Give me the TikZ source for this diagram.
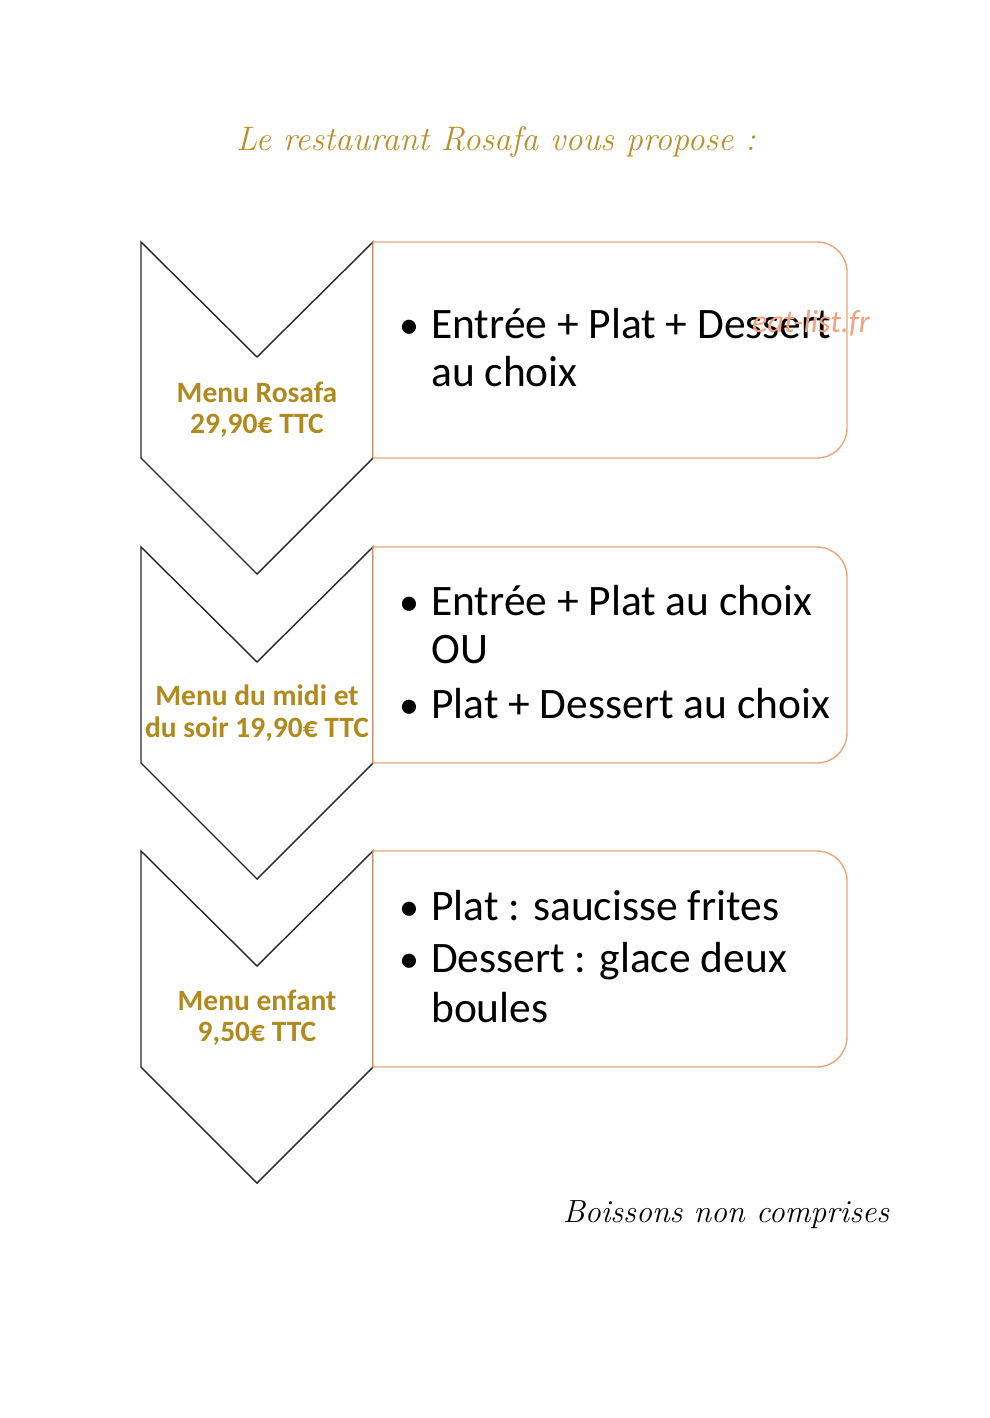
\documentclass[tikz,border=0pt]{standalone}
\usepackage{fontspec}
\newfontfamily\carfont{Carlito}
\definecolor{gold}{HTML}{B08A1E}
\definecolor{titlegold}{HTML}{B8912C}
\definecolor{boxorange}{HTML}{E9A57A}
\definecolor{wmark}{HTML}{F2A27E}
\tikzset{
  chev/.style={draw=black!85, line width=1.4pt, fill=white, line join=miter},
  menubox/.style={draw=boxorange, line width=1.4pt, fill=white},
  body/.style={anchor=base west, inner sep=0pt, font=\carfont\fontsize{43.5}{48}\selectfont},
  bul/.style={anchor=base, inner sep=0pt, font=\carfont\fontsize{40}{48}\selectfont},
  lab/.style={anchor=base, inner sep=0pt, text=gold, font=\carfont\bfseries\fontsize{29.5}{32}\selectfont},
}
\begin{document}
\begin{tikzpicture}[x=1pt,y=-1pt]
\path[use as bounding box, fill=white] (0,0) rectangle (989,1418);
% title
\node[anchor=base, inner sep=0pt, text=titlegold, font=\itshape\fontsize{34}{40}\selectfont] (title) at (496,150) {Le restaurant Rosafa vous propose :};
% chevrons and boxes
\foreach \t/\n in {242/1,547/2,851/3}{
  \draw[chev] (141,\t) -- (257,\t+115) -- (373,\t) -- (373,\t+216) -- (257,\t+332) -- (141,\t+216) -- cycle;
  \draw[menubox] (373,\t) -- (817,\t) arc (-90:0:30) -- (847,\t+186) arc (0:90:30) -- (373,\t+216) -- cycle;
}
% labels
\node[lab] (l1a) at (257,402) {Menu Rosafa};
\node[lab] (l1b) at (257,433) {29,90€ TTC};
\node[lab] (l2a) at (257,705) {Menu du midi et};
\node[lab] (l2b) at (257,737) {du soir 19,90€ TTC};
\node[lab] (l3a) at (257,1010) {Menu enfant};
\node[lab] (l3b) at (257,1041) {9,50€ TTC};
% box 1
\node[bul] (b1) at (409,338) {•};
\node[body] (t1a) at (431,338) {Entrée + Plat + Dessert};
\node[body] (t1b) at (431,386) {au choix};
\node[anchor=base west, inner sep=0pt, text=wmark, font=\carfont\itshape\fontsize{32}{34}\selectfont] (wm) at (752,332) {eat-list.fr};
% box 2
\node[bul] (b2) at (409,615) {•};
\node[body] (t2a) at (431,615) {Entrée + Plat au choix};
\node[body] (t2b) at (431,663) {OU};
\node[bul] (b3) at (409,718) {•};
\node[body] (t2c) at (431,718) {Plat + Dessert au choix};
% box 3
\node[bul] (b4) at (409,920) {•};
\node[body] (t3a) at (431,920) {Plat : saucisse frites};
\node[bul] (b5) at (409,972) {•};
\node[body] (t3b) at (431,972) {Dessert : glace deux};
\node[body] (t3c) at (431,1022) {boules};
% footer
\node[anchor=base, inner sep=0pt, font=\itshape\fontsize{32}{40}\selectfont] (foot) at (726,1222) {Boissons non comprises};
\end{tikzpicture}
\end{document}
